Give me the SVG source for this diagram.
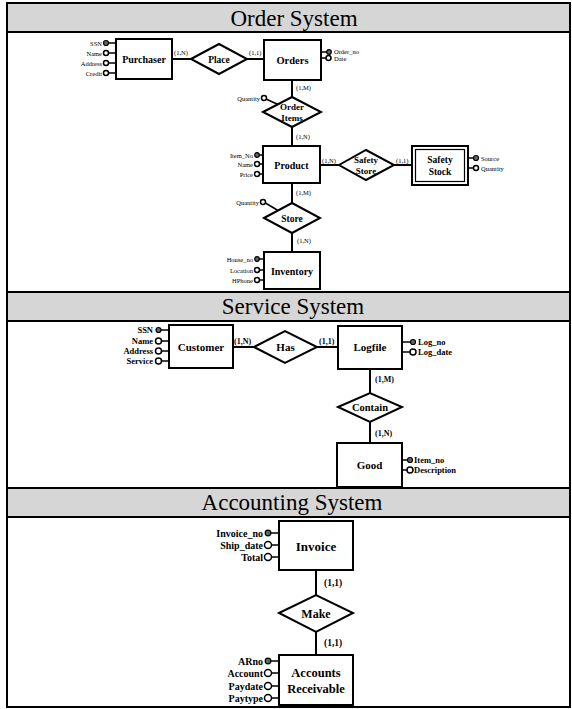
<svg xmlns="http://www.w3.org/2000/svg" width="572" height="709" viewBox="0 0 572 709" font-family="'Liberation Serif', 'DejaVu Serif', Tinos, serif">
<style>
text{font-family:'Liberation Serif','DejaVu Serif',Tinos,serif;fill:#000}
.band{fill:#d6d6d6;stroke:#000;stroke-width:2}
.title{font-size:23px;text-anchor:middle}
.ent{fill:#fff;stroke:#000;stroke-width:2}
.rel{fill:#fff;stroke:#000;stroke-width:2}
.en{font-weight:bold;text-anchor:middle}
.ln{stroke:#000;stroke-width:2;fill:none}
.al{stroke:#000;stroke-width:1.5;fill:none}
.att{fill:#fff;stroke:#000;stroke-width:1.5}
.key{fill:#666;stroke:#000;stroke-width:1.2}
.a1{font-size:6.5px}
.a2{font-size:8.5px;font-weight:bold}
.a3{font-size:10px;font-weight:bold}
.c1{font-size:6.5px}
.c2{font-size:8px;font-weight:bold}
.c3{font-size:9.5px;font-weight:bold}
.e{text-anchor:end}
</style>
<rect x="0" y="0" width="572" height="709" fill="#fff"/>
<g id="frame">
<rect x="7" y="3" width="563" height="704" fill="none" stroke="#000" stroke-width="2"/>
<rect class="band" x="7" y="3" width="563" height="29"/>
<rect class="band" x="7" y="292" width="563" height="29"/>
<rect class="band" x="7" y="488" width="563" height="29"/>
<text class="title" x="294" y="26">Order System</text>
<text class="title" x="293" y="314">Service System</text>
<text class="title" x="292" y="510">Accounting System</text>
</g>
<g id="connectors">
<line class="ln" x1="172" y1="59" x2="191" y2="59"/>
<line class="ln" x1="247" y1="59" x2="264" y2="59"/>
<line class="ln" x1="292" y1="80" x2="292" y2="97"/>
<line class="ln" x1="292" y1="127" x2="292" y2="146"/>
<line class="ln" x1="320" y1="165" x2="339" y2="165"/>
<line class="ln" x1="394" y1="165" x2="412" y2="165"/>
<line class="ln" x1="292" y1="183" x2="292" y2="203"/>
<line class="ln" x1="292" y1="233" x2="292" y2="252"/>
<line class="ln" x1="233" y1="347" x2="254" y2="347"/>
<line class="ln" x1="317" y1="347" x2="338" y2="347"/>
<line class="ln" x1="370" y1="369" x2="370" y2="393"/>
<line class="ln" x1="370" y1="422" x2="370" y2="443"/>
<line class="ln" x1="316" y1="570" x2="316" y2="595"/>
<line class="ln" x1="316" y1="632" x2="316" y2="655"/>
<text class="c1" x="174" y="55">(1,N)</text>
<text class="c1" x="249" y="55">(1,1)</text>
<text class="c1" x="296" y="90">(1,M)</text>
<text class="c1" x="296" y="139">(1,N)</text>
<text class="c1" x="322" y="163">(1,N)</text>
<text class="c1" x="396" y="163">(1,1)</text>
<text class="c1" x="296" y="195">(1,M)</text>
<text class="c1" x="297" y="243">(1,N)</text>
<text class="c2" x="234" y="344">(1,N)</text>
<text class="c2" x="319" y="344">(1,1)</text>
<text class="c2" x="375" y="382">(1,M)</text>
<text class="c2" x="375" y="436">(1,N)</text>
<text class="c3" x="324" y="586">(1,1)</text>
<text class="c3" x="324" y="646">(1,1)</text>
</g>
<g id="purchaser">
<rect class="ent" x="116" y="39" width="56" height="40"/>
<text class="en" x="144" y="63" font-size="10">Purchaser</text>
<line class="al" x1="108" y1="43" x2="116" y2="43"/><circle class="key" cx="106" cy="43" r="2.5"/><text class="a1 e" x="102" y="45.5">SSN</text>
<line class="al" x1="108" y1="53" x2="116" y2="53"/><circle class="att" cx="106" cy="53" r="2.5"/><text class="a1 e" x="102" y="55.5">Name</text>
<line class="al" x1="108" y1="63" x2="116" y2="63"/><circle class="att" cx="106" cy="63" r="2.5"/><text class="a1 e" x="102" y="65.5">Address</text>
<line class="al" x1="108" y1="73" x2="116" y2="73"/><circle class="att" cx="106" cy="73" r="2.5"/><text class="a1 e" x="102" y="75.5">Credit</text>
</g>
<g id="place">
<polygon class="rel" points="191,59 219,44 247,59 219,74"/>
<text class="en" x="219" y="62.5" font-size="9.5">Place</text>
</g>
<g id="orders">
<rect class="ent" x="264" y="40" width="57" height="40"/>
<text class="en" x="292.5" y="64" font-size="10.5">Orders</text>
<line class="al" x1="321" y1="52" x2="327" y2="52"/><circle class="key" cx="329" cy="52" r="2.3"/><text class="a1" x="334" y="54">Order_no</text>
<line class="al" x1="321" y1="58" x2="326" y2="58"/><circle class="att" cx="328.5" cy="58" r="2.5"/><text class="a1" x="334" y="60.5">Date</text>
</g>
<g id="order-items">
<polygon class="rel" points="263,112 292,97 321,112 292,127"/>
<text class="en" x="292" y="110" font-size="9">Order</text>
<text class="en" x="292" y="121" font-size="9">Items</text>
<line class="al" x1="266" y1="99" x2="278" y2="104.5"/><circle class="att" cx="264" cy="98" r="2.5"/><text class="a1 e" x="260" y="100.5">Quantity</text>
</g>
<g id="product">
<rect class="ent" x="263" y="146" width="57" height="37"/>
<text class="en" x="291.5" y="168.5" font-size="10">Product</text>
<line class="al" x1="259" y1="155" x2="263" y2="155"/><circle class="key" cx="257" cy="155" r="2.3"/><text class="a1 e" x="253" y="157.5">Item_No</text>
<line class="al" x1="259.5" y1="164" x2="263" y2="164"/><circle class="att" cx="257" cy="164" r="2.5"/><text class="a1 e" x="253" y="166.5">Name</text>
<line class="al" x1="259.5" y1="174" x2="263" y2="174"/><circle class="att" cx="257" cy="174" r="2.5"/><text class="a1 e" x="253" y="176.5">Price</text>
</g>
<g id="safety-store">
<polygon class="rel" points="339,165 366,150 394,165 366,180"/>
<text class="en" x="366" y="163" font-size="9">Safety</text>
<text class="en" x="366" y="174" font-size="9">Store</text>
</g>
<g id="safety-stock">
<rect class="ent" x="412" y="146" width="56" height="39"/>
<rect x="415.5" y="149.5" width="49" height="32" fill="none" stroke="#000" stroke-width="1.2"/>
<text class="en" x="440" y="163" font-size="9.5">Safety</text>
<text class="en" x="440" y="175" font-size="9.5">Stock</text>
<line class="al" x1="468" y1="158" x2="474" y2="158"/><circle class="key" cx="476" cy="158" r="2.5"/><text class="a1" x="481" y="160.5">Source</text>
<line class="al" x1="468" y1="168" x2="473.5" y2="168"/><circle class="att" cx="476" cy="168" r="2.5"/><text class="a1" x="481" y="170.5">Quantity</text>
</g>
<g id="store">
<polygon class="rel" points="264,218 292,203 320,218 292,233"/>
<text class="en" x="292" y="221.5" font-size="9.5">Store</text>
<line class="al" x1="265.5" y1="203" x2="278" y2="210.5"/><circle class="att" cx="263" cy="202" r="2.5"/><text class="a1 e" x="259" y="204.5">Quantity</text>
</g>
<g id="inventory">
<rect class="ent" x="264" y="252" width="56" height="37"/>
<text class="en" x="292" y="274.5" font-size="10">Inventory</text>
<line class="al" x1="259" y1="259" x2="264" y2="259"/><circle class="key" cx="257" cy="259" r="2.3"/><text class="a1 e" x="253" y="261.5">House_no</text>
<line class="al" x1="259.5" y1="270" x2="264" y2="270"/><circle class="att" cx="257" cy="270" r="2.5"/><text class="a1 e" x="253" y="272.5">Location</text>
<line class="al" x1="259.5" y1="280" x2="264" y2="280"/><circle class="att" cx="257" cy="280" r="2.5"/><text class="a1 e" x="253" y="282.5">HPhone</text>
</g>
<g id="customer">
<rect class="ent" x="169" y="325" width="64" height="43"/>
<text class="en" x="201" y="351" font-size="11">Customer</text>
<line class="al" x1="161" y1="330" x2="169" y2="330"/><circle class="key" cx="158.5" cy="330" r="2.5"/><text class="a2 e" x="153" y="333">SSN</text>
<line class="al" x1="161.5" y1="341" x2="169" y2="341"/><circle class="att" cx="158.5" cy="341" r="3"/><text class="a2 e" x="153" y="344">Name</text>
<line class="al" x1="161.5" y1="351" x2="169" y2="351"/><circle class="att" cx="158.5" cy="351" r="3"/><text class="a2 e" x="153" y="354">Address</text>
<line class="al" x1="161.5" y1="361" x2="169" y2="361"/><circle class="att" cx="158.5" cy="361" r="3"/><text class="a2 e" x="153" y="364">Service</text>
</g>
<g id="has">
<polygon class="rel" points="254,347 285,331 317,347 285,363"/>
<text class="en" x="285.5" y="351" font-size="11">Has</text>
</g>
<g id="logfile">
<rect class="ent" x="338" y="326" width="64" height="43"/>
<text class="en" x="370" y="351" font-size="11">Logfile</text>
<line class="al" x1="402" y1="342" x2="411" y2="342"/><circle class="key" cx="413" cy="342" r="2.5"/><text class="a2" x="418" y="345">Log_no</text>
<line class="al" x1="402" y1="352" x2="410" y2="352"/><circle class="att" cx="413" cy="352" r="3"/><text class="a2" x="418" y="355">Log_date</text>
</g>
<g id="contain">
<polygon class="rel" points="338,407 370,393 402,407 370,422"/>
<text class="en" x="370" y="411" font-size="10.5">Contain</text>
</g>
<g id="good">
<rect class="ent" x="337" y="443" width="65" height="44"/>
<text class="en" x="369.5" y="469" font-size="11">Good</text>
<line class="al" x1="402" y1="460" x2="408" y2="460"/><circle class="key" cx="410" cy="460" r="2.5"/><text class="a2" x="414" y="463">Item_no</text>
<line class="al" x1="402" y1="470" x2="407" y2="470"/><circle class="att" cx="410" cy="470" r="3"/><text class="a2" x="414" y="473">Description</text>
</g>
<g id="invoice">
<rect class="ent" x="279" y="521" width="74" height="49"/>
<text class="en" x="316" y="550.5" font-size="13">Invoice</text>
<line class="al" x1="270.5" y1="533" x2="279" y2="533"/><circle class="key" cx="268" cy="533" r="2.8"/><text class="a3 e" x="263" y="536.5">Invoice_no</text>
<line class="al" x1="271.5" y1="545" x2="279" y2="545"/><circle class="att" cx="268" cy="545" r="3.5"/><text class="a3 e" x="263" y="548.5">Ship_date</text>
<line class="al" x1="271.5" y1="557" x2="279" y2="557"/><circle class="att" cx="268" cy="557" r="3.5"/><text class="a3 e" x="263" y="560.5">Total</text>
</g>
<g id="make">
<polygon class="rel" points="279,613 316,595 353,613 316,632"/>
<text class="en" x="316" y="617.5" font-size="12">Make</text>
</g>
<g id="accounts-receivable">
<rect class="ent" x="279" y="655" width="74" height="50"/>
<text class="en" x="316" y="677" font-size="12.5">Accounts</text>
<text class="en" x="316" y="693" font-size="12.5">Receivable</text>
<line class="al" x1="270.5" y1="661" x2="279" y2="661"/><circle class="key" cx="268" cy="661" r="2.8"/><text class="a3 e" x="263" y="664.5">ARno</text>
<line class="al" x1="271.5" y1="673" x2="279" y2="673"/><circle class="att" cx="268" cy="673" r="3.5"/><text class="a3 e" x="263" y="676.5">Account</text>
<line class="al" x1="271.5" y1="686" x2="279" y2="686"/><circle class="att" cx="268" cy="686" r="3.5"/><text class="a3 e" x="263" y="689.5">Paydate</text>
<line class="al" x1="271.5" y1="698" x2="279" y2="698"/><circle class="att" cx="268" cy="698" r="3.5"/><text class="a3 e" x="263" y="701.5">Paytype</text>
</g>
</svg>
